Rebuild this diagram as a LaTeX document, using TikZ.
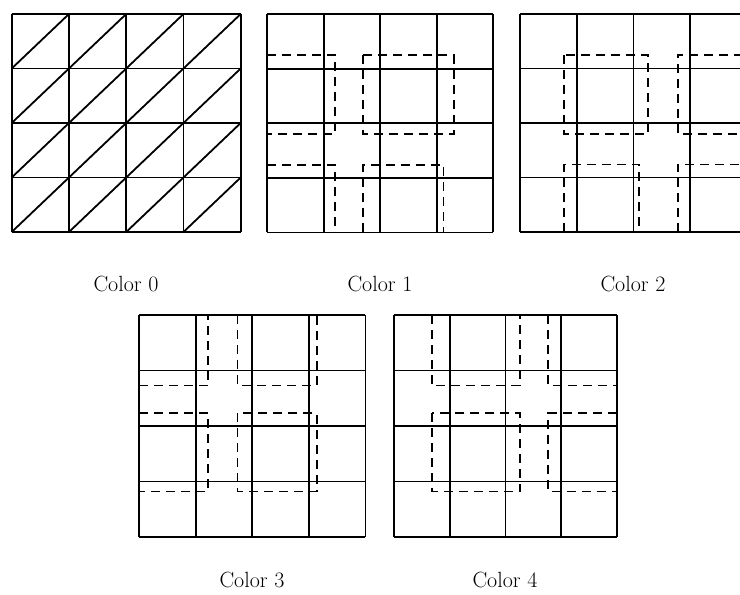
\documentclass[tikz,border=0pt]{standalone}
\usepackage{tikz}
\usetikzlibrary{positioning}

\begin{document}
\begin{tikzpicture}[x=1pt, y=-1pt, font=\fontsize{22}{26}\selectfont,
  meshline/.style={line width=1.8pt},
  subdom/.style={line width=1.8pt, dash pattern=on 9pt off 6pt}]
  \useasboundingbox (0,0) rectangle (740,595);
  \clip (0,0) rectangle (740,595);
  % Color 0: triangulated mesh
  \begin{scope}[shift={(11.7,14)}, x=57.25pt, y=-54.5pt]
    \foreach \i in {0,...,4} {
      \draw[meshline] (\i,0) -- (\i,4);
      \draw[meshline] (0,\i) -- (4,\i);
    }
    \foreach \i in {0,...,3}
      \foreach \j in {0,...,3}
        \draw[meshline] (\i,\j+1) -- (\i+1,\j);
  \end{scope}
  % Color 1
  \begin{scope}[shift={(267.3,14)}, x=56.5pt, y=-54.6pt]
    \foreach \i in {0,...,4} {
      \draw[meshline] (\i,0) -- (\i,4);
      \draw[meshline] (0,\i) -- (4,\i);
    }
    \draw[subdom] (0,0.75) -- (1.2,0.75) -- (1.2,2.2) -- (0,2.2);
    \draw[subdom] (1.7,0.75) rectangle (3.3,2.2);
    \draw[subdom] (0,2.76) -- (1.2,2.76) -- (1.2,4);
    \draw[subdom] (1.7,4) -- (1.7,2.76) -- (3.12,2.76) -- (3.12,4);
  \end{scope}
  % Color 2 (runs off the right edge)
  \begin{scope}[shift={(520,14)}, x=56.7pt, y=-54.5pt]
    \foreach \i in {0,...,4} {
      \draw[meshline] (\i,0) -- (\i,4);
      \draw[meshline] (0,\i) -- (4,\i);
    }
    \draw[subdom] (0.78,0.75) rectangle (2.26,2.2);
    \draw[subdom] (4.2,0.75) -- (2.78,0.75) -- (2.78,2.2) -- (4.2,2.2);
    \draw[subdom] (0.78,4) -- (0.78,2.76) -- (2.1,2.76) -- (2.1,4);
    \draw[subdom] (2.78,4) -- (2.78,2.76) -- (4.2,2.76);
  \end{scope}
  % Color 3
  \begin{scope}[shift={(139,315)}, x=56.6pt, y=-55.5pt]
    \foreach \i in {0,...,4} {
      \draw[meshline] (\i,0) -- (\i,4);
      \draw[meshline] (0,\i) -- (4,\i);
    }
    \draw[subdom] (0,1.27) -- (1.22,1.27) -- (1.22,0);
    \draw[subdom] (1.74,0) -- (1.74,1.27) -- (3.14,1.27) -- (3.14,0);
    \draw[subdom] (0,1.77) -- (1.22,1.77) -- (1.22,3.18) -- (0,3.18);
    \draw[subdom] (1.74,1.77) rectangle (3.14,3.18);
  \end{scope}
  % Color 4
  \begin{scope}[shift={(394,315)}, x=55.7pt, y=-55.5pt]
    \foreach \i in {0,...,4} {
      \draw[meshline] (\i,0) -- (\i,4);
      \draw[meshline] (0,\i) -- (4,\i);
    }
    \draw[subdom] (0.68,0) -- (0.68,1.27) -- (2.26,1.27) -- (2.26,0);
    \draw[subdom] (2.77,0) -- (2.77,1.27) -- (4,1.27);
    \draw[subdom] (0.68,1.77) rectangle (2.26,3.18);
    \draw[subdom] (4,1.77) -- (2.77,1.77) -- (2.77,3.18) -- (4,3.18);
  \end{scope}
  % Labels
  \node (lab0) at (126,284) {Color 0};
  \node (lab1) at (380,284) {Color 1};
  \node (lab2) at (633,284) {Color 2};
  \node (lab3) at (252,580) {Color 3};
  \node (lab4) at (505,580) {Color 4};
\end{tikzpicture}
\end{document}
